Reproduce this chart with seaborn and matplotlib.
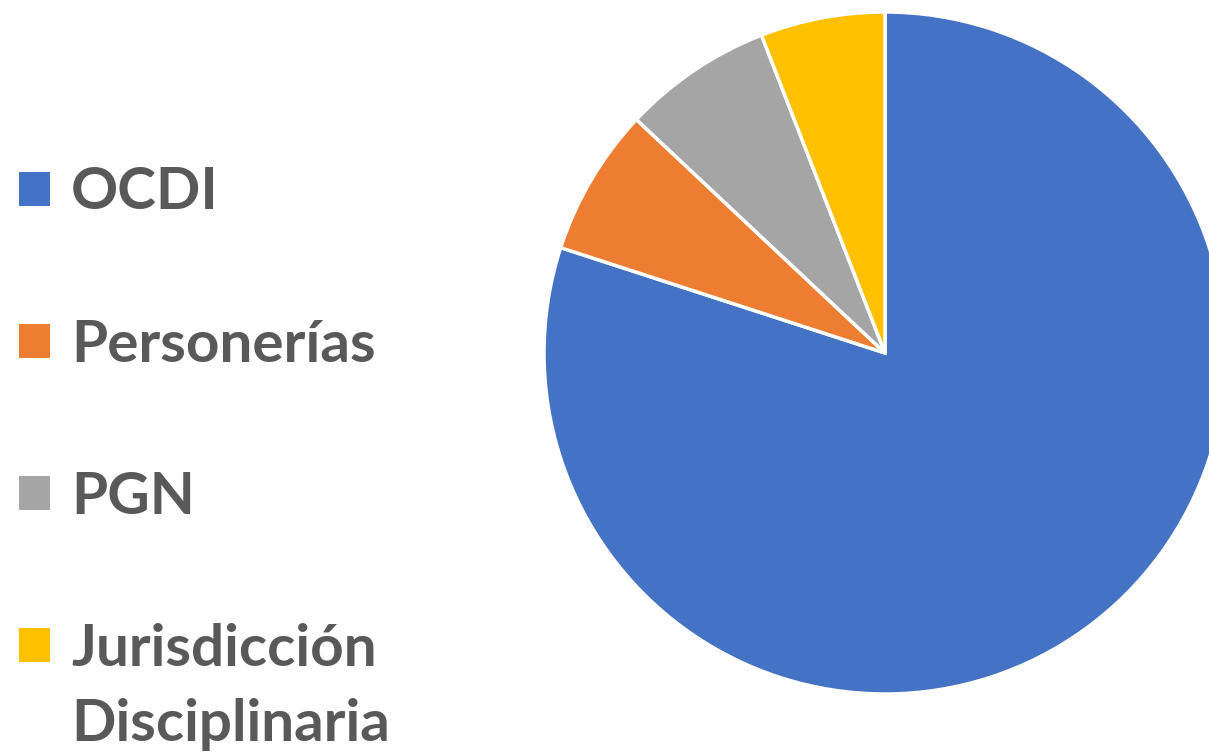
import matplotlib
matplotlib.use("Agg")
import matplotlib.pyplot as plt
import seaborn as sns

# approximate shares (percent)
categories = ["OCDI", "Personerías", "PGN", "Jurisdicción Disciplinaria"]
shares = [80.0, 7.0, 7.1, 5.9]
colors = ["#4472C4", "#ED7D31", "#A5A5A5", "#FFC000"]

sns.set_style("white")
plt.rcParams["font.family"] = ["Lato", "DejaVu Sans"]

W, H = 1209, 753
fig = plt.figure(figsize=(W / 100, H / 100), dpi=100)

# pie centre (885, 353) px, radius 341 px
cx, cy, r = 885, 353, 341
ax = fig.add_axes([(cx - r) / W, (H - cy - r) / H, 2 * r / W, 2 * r / H])
wedges, _ = ax.pie(
    shares,
    colors=sns.color_palette(colors),
    startangle=90,
    counterclock=False,
    radius=1,
    wedgeprops=dict(edgecolor="white", linewidth=2.5),
)
ax.set_xlim(-1, 1)
ax.set_ylim(-1, 1)
ax.set_aspect("equal")
ax.axis("off")

# last label wraps onto a second line; the square sits on the first line
first_lines = [c.split(" ")[0] if len(c) > 15 else c for c in categories]
leg = fig.legend(
    wedges, first_lines,
    loc="upper left",
    bbox_to_anchor=(19 / W, 0.779),
    frameon=False,
    handlelength=0.53,
    handleheight=0.53,
    handletextpad=0.36,
    labelspacing=1.70,
    borderaxespad=0,
    borderpad=0,
    prop=dict(weight="bold", size=42),
)
for t in leg.get_texts():
    t.set_color("#595959")
for h in leg.legend_handles:
    h.set_edgecolor("none")

# second line of the wrapped label, placed under the first one
fig.canvas.draw()
bb = leg.get_texts()[3].get_window_extent()
fig.text(
    bb.x0 / W, (bb.y0 - 75) / H,
    categories[3].split(" ", 1)[1],
    ha="left", va="bottom",
    fontsize=42, fontweight="bold", color="#595959",
)

fig.savefig("out.png", dpi=100)
